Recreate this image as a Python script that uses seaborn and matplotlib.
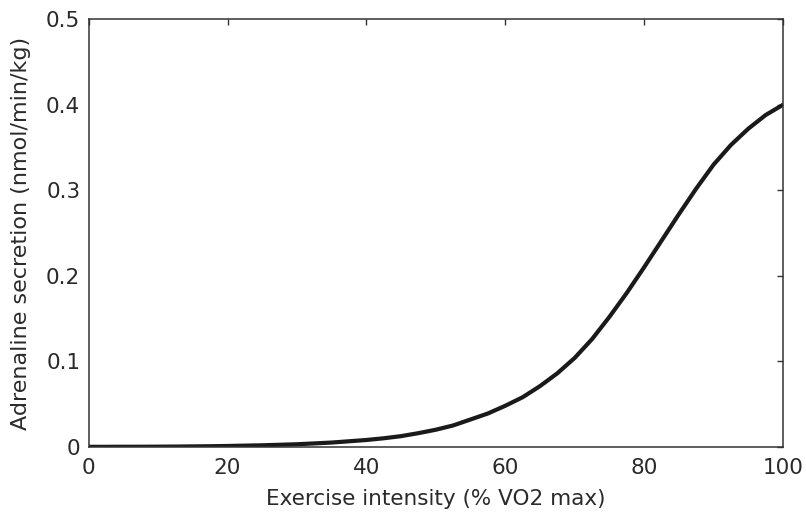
import numpy as np
import pandas as pd
import seaborn as sns
import matplotlib.pyplot as plt

# values, every 2.5 % VO2 max
intensity = [0, 2.5, 5, 7.5, 10, 12.5, 15, 17.5, 20, 22.5, 25, 27.5, 30, 32.5,
             35, 37.5, 40, 42.5, 45, 47.5, 50, 52.5, 55, 57.5, 60, 62.5, 65,
             67.5, 70, 72.5, 75, 77.5, 80, 82.5, 85, 87.5, 90, 92.5, 95, 97.5, 100]
secretion = [0.0, 0.0, 0.0001, 0.0001, 0.0002, 0.0003, 0.0005, 0.0007, 0.001,
             0.0014, 0.0018, 0.0024, 0.003, 0.004, 0.005, 0.0065, 0.008, 0.010,
             0.0125, 0.016, 0.020, 0.025, 0.032, 0.039, 0.048, 0.058, 0.071,
             0.086, 0.104, 0.126, 0.152, 0.180, 0.210, 0.241, 0.272, 0.302,
             0.330, 0.353, 0.372, 0.388, 0.400]

df = pd.DataFrame({"x": intensity, "y": secretion})

sns.set_style("white")
plt.rcParams['font.family'] = ['DejaVu Sans']

fig = plt.figure(figsize=(8.06, 5.13), dpi=100)
ax = fig.add_axes([0.110, 0.129, 0.8615, 0.8335])

sns.lineplot(data=df, x="x", y="y", color="#1a1a1a", linewidth=3.0, ax=ax)

ax.set_xlim(0, 100)
ax.set_ylim(0, 0.5)
ax.set_xticks([0, 20, 40, 60, 80, 100])
ax.set_yticks([0, 0.1, 0.2, 0.3, 0.4, 0.5])
ax.set_yticklabels(["0", "0.1", "0.2", "0.3", "0.4", "0.5"])
ax.tick_params(direction="in", length=4, width=1, color="#333333",
               top=True, right=True, labelsize=15.5, labelcolor="#2a2a2a")
ax.tick_params(axis="x", pad=8)
ax.tick_params(axis="y", pad=6)
for s in ax.spines.values():
    s.set_visible(True)
    s.set_color("#333333")
    s.set_linewidth(1.1)

ax.set_xlabel("Exercise intensity (% VO2 max)", fontsize=15.5, color="#2a2a2a", labelpad=8)
ax.set_ylabel("Adrenaline secretion (nmol/min/kg)", fontsize=16, color="#2a2a2a", labelpad=11)

fig.savefig("out.png", dpi=100)
